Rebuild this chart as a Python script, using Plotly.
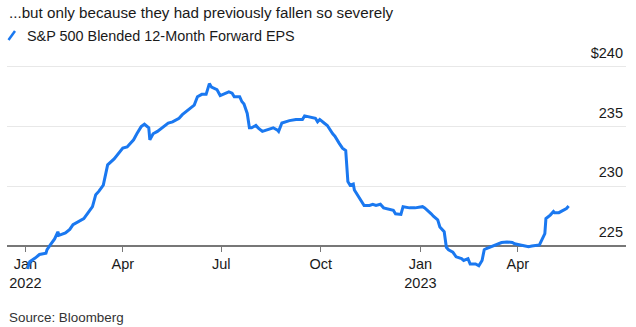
import plotly.graph_objects as go

dates = [
    "2022-01-03", "2022-01-05", "2022-01-10", "2022-01-14", "2022-01-20", "2022-01-21",
    "2022-01-24", "2022-01-28", "2022-01-31", "2022-02-01", "2022-02-07", "2022-02-11",
    "2022-02-14", "2022-02-18", "2022-02-21", "2022-02-24", "2022-02-28", "2022-03-04",
    "2022-03-07", "2022-03-10", "2022-03-14", "2022-03-16", "2022-03-18", "2022-03-24",
    "2022-03-30", "2022-04-01", "2022-04-05", "2022-04-11", "2022-04-14", "2022-04-18",
    "2022-04-21", "2022-04-25", "2022-04-26", "2022-04-29", "2022-05-03", "2022-05-09",
    "2022-05-13", "2022-05-17", "2022-05-23", "2022-05-26", "2022-05-31", "2022-06-06",
    "2022-06-09", "2022-06-13", "2022-06-17", "2022-06-20", "2022-06-22", "2022-06-27",
    "2022-06-30", "2022-07-05", "2022-07-08", "2022-07-11", "2022-07-13", "2022-07-18",
    "2022-07-20", "2022-07-22", "2022-07-25", "2022-07-27", "2022-07-29", "2022-08-02",
    "2022-08-04", "2022-08-08", "2022-08-12", "2022-08-18", "2022-08-22", "2022-08-23",
    "2022-08-26", "2022-09-02", "2022-09-08", "2022-09-14", "2022-09-16", "2022-09-22",
    "2022-09-26", "2022-09-28", "2022-09-30", "2022-10-04", "2022-10-07", "2022-10-12",
    "2022-10-14", "2022-10-18", "2022-10-21", "2022-10-24", "2022-10-26", "2022-10-28",
    "2022-10-31", "2022-11-01", "2022-11-04", "2022-11-07", "2022-11-10", "2022-11-15",
    "2022-11-18", "2022-11-21", "2022-11-25", "2022-11-28", "2022-12-02", "2022-12-07",
    "2022-12-09", "2022-12-14", "2022-12-16", "2022-12-22", "2022-12-27", "2023-01-03",
    "2023-01-05", "2023-01-09", "2023-01-11", "2023-01-13", "2023-01-17", "2023-01-19",
    "2023-01-23", "2023-01-25", "2023-01-27", "2023-01-31", "2023-02-03", "2023-02-08",
    "2023-02-10", "2023-02-14", "2023-02-16", "2023-02-21", "2023-02-24", "2023-02-27",
    "2023-03-01", "2023-03-03", "2023-03-08", "2023-03-13", "2023-03-17", "2023-03-22",
    "2023-03-27", "2023-03-29", "2023-04-03", "2023-04-06", "2023-04-11", "2023-04-14",
    "2023-04-19", "2023-04-21", "2023-04-26", "2023-04-27", "2023-05-01", "2023-05-04",
    "2023-05-05", "2023-05-09", "2023-05-12", "2023-05-16", "2023-05-18",
]

eps = [
    223.1, 223.7, 224.0, 224.3, 224.4, 224.7,
    225.1, 225.6, 226.2, 225.9, 226.1, 226.4,
    226.8, 227.0, 227.1, 227.3, 227.8, 228.3,
    229.3, 229.6, 230.1, 231.1, 231.8, 232.3,
    233.0, 233.2, 233.3, 233.9, 234.4, 235.0,
    235.2, 234.9, 233.9, 234.4, 234.6, 235.0,
    235.3, 235.4, 235.7, 236.0, 236.4, 236.8,
    237.5, 237.7, 237.7, 238.6, 238.3, 238.1,
    237.6, 237.8, 237.9, 237.8, 237.5, 237.5,
    237.1, 236.9, 236.1, 234.9, 234.9, 235.1,
    234.9, 234.6, 234.7, 234.9, 234.7, 234.6,
    235.3, 235.5, 235.6, 235.6, 235.9, 235.8,
    235.7, 235.4, 235.6, 235.3, 235.1, 234.4,
    234.2, 233.6, 233.2, 233.0, 230.4, 230.1,
    230.2, 229.7, 229.3, 228.9, 228.4, 228.4,
    228.5, 228.4, 228.5, 228.2, 228.1, 228.0,
    227.7, 227.65, 228.3, 228.2, 228.2, 228.3,
    228.2, 227.9, 227.7, 227.5, 227.2, 226.6,
    226.2, 224.9, 224.7, 224.5, 224.1, 223.95,
    223.8, 223.95, 223.5, 223.5, 223.35, 223.8,
    224.7, 224.8, 225.0, 225.2, 225.3, 225.35,
    225.3, 225.2, 225.1, 225.0, 224.95, 225.0,
    225.1, 225.1, 226.05, 227.3, 227.6, 227.9,
    227.8, 227.8, 227.95, 228.15, 228.35,
]

x_tickvals = ["2022-01-01", "2022-04-01", "2022-07-01", "2022-10-01", "2023-01-01", "2023-04-01"]
x_ticktext = ["Jan<br>2022", "Apr", "Jul", "Oct", "Jan<br>2023", "Apr"]
y_tickvals = [225, 230, 235, 240]
y_ticktext = ["225", "230", "235", "$240"]

title_text = "...but only because they had previously fallen so severely"
legend_text = "S&P 500 Blended 12-Month Forward EPS"
source_text = "Source: Bloomberg"

BLUE = "#1a78f0"
FONT = "Liberation Sans, Arial, sans-serif"

W, H = 636, 327
M_L, M_R, M_T, M_B = 7, 10, 37, 57
PLOT_W = W - M_L - M_R
PLOT_H = H - M_T - M_B
Y_MIN, Y_MAX = 223, 242.5


def py(pixel_y):
    """Convert a pixel row in the page to paper y (for page furniture only)."""
    return (H - M_B - pixel_y) / PLOT_H


def px(pixel_x):
    return (pixel_x - M_L) / PLOT_W


fig = go.Figure()
fig.add_trace(go.Scatter(
    x=dates, y=eps, mode="lines",
    line=dict(color=BLUE, width=3),
    showlegend=False, hoverinfo="skip",
))

fig.update_layout(
    width=W, height=H,
    margin=dict(l=M_L, r=M_R, t=M_T, b=M_B),
    paper_bgcolor="white", plot_bgcolor="white",
    font=dict(family=FONT, color="#1a1a1a"),
    xaxis=dict(
        range=["2021-12-15", "2023-07-10"],
        type="date",
        anchor="free", position=(225 - Y_MIN) / (Y_MAX - Y_MIN),
        showline=True, linecolor="#777777", linewidth=1.5,
        ticks="outside", ticklen=5, tickcolor="#777777", tickwidth=1,
        tickvals=x_tickvals, ticktext=x_ticktext,
        tickfont=dict(size=14.5, color="#1a1a1a"),
        showgrid=False, zeroline=False,
        layer="below traces",
    ),
    yaxis=dict(
        range=[Y_MIN, Y_MAX],
        side="right",
        tickvals=y_tickvals, ticktext=y_ticktext,
        ticklabelposition="inside top",
        ticklabelshift=-4,
        tickfont=dict(size=14.5, color="#1a1a1a"),
        showgrid=True, gridcolor="#e8e8e8", gridwidth=1,
        zeroline=False, showline=False, ticks="",
    ),
    annotations=[
        dict(text=title_text, xref="paper", yref="paper", x=0, y=py(12),
             xanchor="left", yanchor="middle", showarrow=False,
             font=dict(size=15.2, color="#1a1a1a", family=FONT)),
        dict(text=legend_text, xref="paper", yref="paper", x=px(25), y=py(36),
             xanchor="left", yanchor="middle", showarrow=False,
             font=dict(size=14.4, color="#1a1a1a", family=FONT)),
        dict(text=source_text, xref="paper", yref="paper", x=0, y=py(317),
             xanchor="left", yanchor="middle", showarrow=False,
             font=dict(size=13.4, color="#333333", family=FONT)),
    ],
    shapes=[
        dict(type="line", xref="paper", yref="paper",
             x0=px(8.5), y0=py(40), x1=px(15), y1=py(31),
             line=dict(color=BLUE, width=2.5)),
    ],
)

fig.write_html("out.html")
